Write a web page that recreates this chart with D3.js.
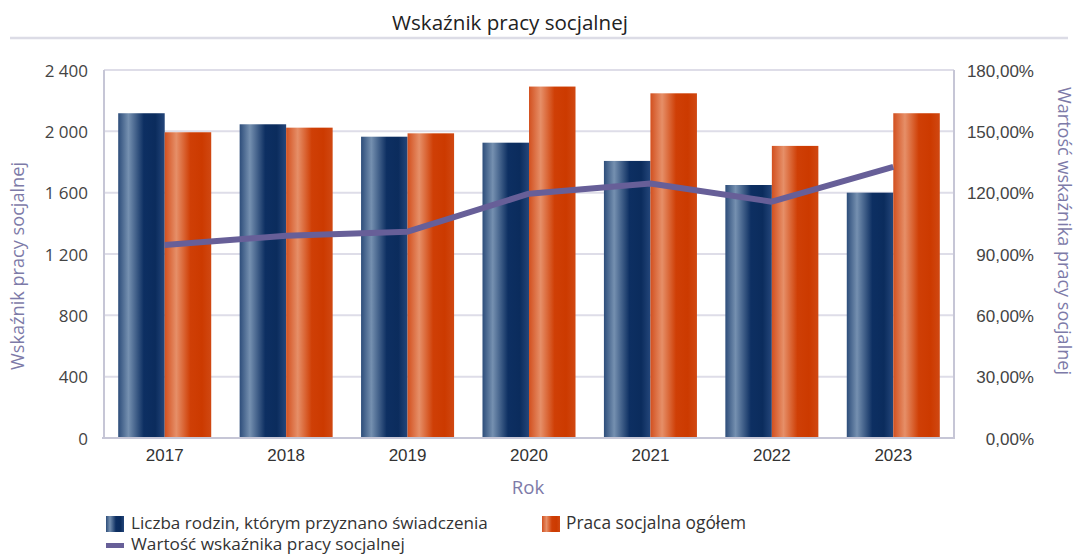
<!DOCTYPE html>
<html><head><meta charset="utf-8">
<script src="https://cdn.jsdelivr.net/npm/d3@7"></script>
<style>
body{margin:0;background:#fff;}
svg{display:block;font-family:"Open Sans","Noto Sans",sans-serif;}
</style></head>
<body><svg id="c" width="1076" height="554"></svg>
<script>
const years = ["2017","2018","2019","2020","2021","2022","2023"];
const families = [2118, 2046, 1965, 1926, 1807, 1650, 1600];
const socialWork = [1994, 2024, 1987, 2292, 2248, 1905, 2118];
const indicator = [94.4, 98.9, 100.9, 119.5, 124.5, 115.6, 132.6];
const leftTicks = [0, 400, 800, 1200, 1600, 2000, 2400];
const rightTicks = [0, 30, 60, 90, 120, 150, 180];
const seriesNames = ["Liczba rodzin, którym przyznano świadczenia", "Praca socjalna ogółem", "Wartość wskaźnika pracy socjalnej"];

const svg = d3.select("#c");
const L = 104, R = 954, T = 70, B = 438;
const FS = 17;

function fit(sel, w){
  const n = sel.node();
  const cur = n.getComputedTextLength();
  const fs = parseFloat(sel.attr("font-size"));
  sel.attr("font-size", (fs * w / cur).toFixed(2));
  return sel;
}

const defs = svg.append("defs");
function grad(id, stops){
  const g = defs.append("linearGradient").attr("id", id).attr("x1","0").attr("x2","1").attr("y1","0").attr("y2","0");
  stops.forEach(s => g.append("stop").attr("offset", s[0]).attr("stop-color", s[1]));
}
grad("gBlue", [[0,"#2d4d7a"],[0.22,"#7590b0"],[0.55,"#0d2f62"],[0.8,"#0b2c5d"],[1,"#24467a"]]);
grad("gOrange", [[0,"#d2501f"],[0.25,"#e68f68"],[0.55,"#cf3f06"],[0.8,"#cc3a00"],[1,"#d04812"]]);

const x = d3.scaleBand().domain(years).range([L, R]).paddingInner(0.234).paddingOuter(0.117);
const xs = d3.scaleBand().domain([0,1]).range([0, x.bandwidth()]);
const y = d3.scaleLinear().domain([0, 2400]).range([B, T]);
const y2 = d3.scaleLinear().domain([0, 180]).range([B, T]);

// title
fit(svg.append("text").attr("x", 510).attr("y", 30).attr("text-anchor","middle")
  .attr("font-size", 20).attr("fill", "#222").text("Wskaźnik pracy socjalnej"), 236);
svg.append("line").attr("x1", 10).attr("x2", 1068).attr("y1", 38).attr("y2", 38)
  .attr("stroke", "#dcdce6").attr("stroke-width", 2.5);

// gridlines
svg.append("g").selectAll("line").data(leftTicks.slice(1)).join("line")
  .attr("x1", L).attr("x2", R).attr("y1", d => y(d)).attr("y2", d => y(d))
  .attr("stroke", "#dedde8").attr("stroke-width", 2);

// left axis
const la = svg.append("g").attr("transform", `translate(${L},0)`)
  .call(d3.axisLeft(y).tickValues(leftTicks).tickSize(0).tickPadding(16)
    .tickFormat(d => d3.format(",")(d).replace(/,/g, " ")));
la.select(".domain").remove();
la.selectAll("text").attr("font-size", FS).attr("fill", "#444").attr("font-family", "\"Open Sans\",sans-serif").attr("dy", "0.36em");

// right axis
const ra = svg.append("g").attr("transform", `translate(${R},0)`)
  .call(d3.axisRight(y2).tickValues(rightTicks).tickSize(0).tickPadding(0)
    .tickFormat(d => d3.format(".2f")(d).replace(".", ",") + "%"));
ra.select(".domain").remove();
ra.selectAll("text").attr("font-size", FS).attr("fill", "#444").attr("text-anchor","end").attr("x", 80).attr("dy", "0.36em");

// axis lines
svg.append("line").attr("x1", L).attr("x2", L).attr("y1", T).attr("y2", B).attr("stroke", "#c6c6d6").attr("stroke-width", 2);
svg.append("line").attr("x1", R).attr("x2", R).attr("y1", T).attr("y2", B).attr("stroke", "#c6c6d6").attr("stroke-width", 2);

// bars
const grp = svg.append("g").selectAll("g").data(years).join("g")
  .attr("transform", d => `translate(${x(d)},0)`);
grp.append("rect").attr("x", xs(0)).attr("width", xs.bandwidth())
  .attr("y", (d,i) => y(families[i])).attr("height", (d,i) => B - y(families[i]))
  .attr("fill", "url(#gBlue)");
grp.append("rect").attr("x", xs(1)).attr("width", xs.bandwidth())
  .attr("y", (d,i) => y(socialWork[i])).attr("height", (d,i) => B - y(socialWork[i]))
  .attr("fill", "url(#gOrange)");

// bottom axis
svg.append("line").attr("x1", L - 2).attr("x2", R + 1).attr("y1", B).attr("y2", B).attr("stroke", "#c6c6d6").attr("stroke-width", 2);
const xa = svg.append("g").attr("transform", `translate(0,${B})`)
  .call(d3.axisBottom(x).tickSize(0).tickPadding(0));
xa.select(".domain").remove();
xa.selectAll("text").attr("font-size", FS).attr("fill", "#333").attr("dy", null).attr("y", 23);

// line
const line = d3.line().x((d,i) => x(years[i]) + x.bandwidth()/2).y(d => y2(d));
svg.append("path").datum(indicator).attr("d", line).attr("fill","none")
  .attr("stroke", "#675f98").attr("stroke-width", 6).attr("stroke-linejoin","round");

// axis titles
fit(svg.append("text").attr("transform", "translate(24,266) rotate(-90)").attr("text-anchor","middle")
  .attr("font-size", 17).attr("fill", "#7d7aa8").text("Wskaźnik pracy socjalnej"), 208);
fit(svg.append("text").attr("transform", "translate(1058,231) rotate(90)").attr("text-anchor","middle")
  .attr("font-size", 17).attr("fill", "#7d7aa8").text("Wartość wskaźnika pracy socjalnej"), 288);
fit(svg.append("text").attr("x", 528).attr("y", 494).attr("text-anchor","middle")
  .attr("font-size", 17).attr("fill", "#7d7aa8").text("Rok"), 32.5);

// legend
const lg = svg.append("g");
lg.append("rect").attr("x", 106).attr("y", 516).attr("width", 18).attr("height", 16).attr("fill", "url(#gBlue)");
fit(lg.append("text").attr("x", 131).attr("y", 529).attr("font-size", 17).attr("fill", "#333").text(seriesNames[0]), 357);
lg.append("rect").attr("x", 542).attr("y", 516).attr("width", 18).attr("height", 16).attr("fill", "url(#gOrange)");
fit(lg.append("text").attr("x", 566).attr("y", 529).attr("font-size", 17).attr("fill", "#333").text(seriesNames[1]), 180);
lg.append("rect").attr("x", 106).attr("y", 543).attr("width", 18).attr("height", 5).attr("fill", "#675f98");
fit(lg.append("text").attr("x", 131).attr("y", 550).attr("font-size", 17).attr("fill", "#333").text(seriesNames[2]), 274);
</script></body></html>
